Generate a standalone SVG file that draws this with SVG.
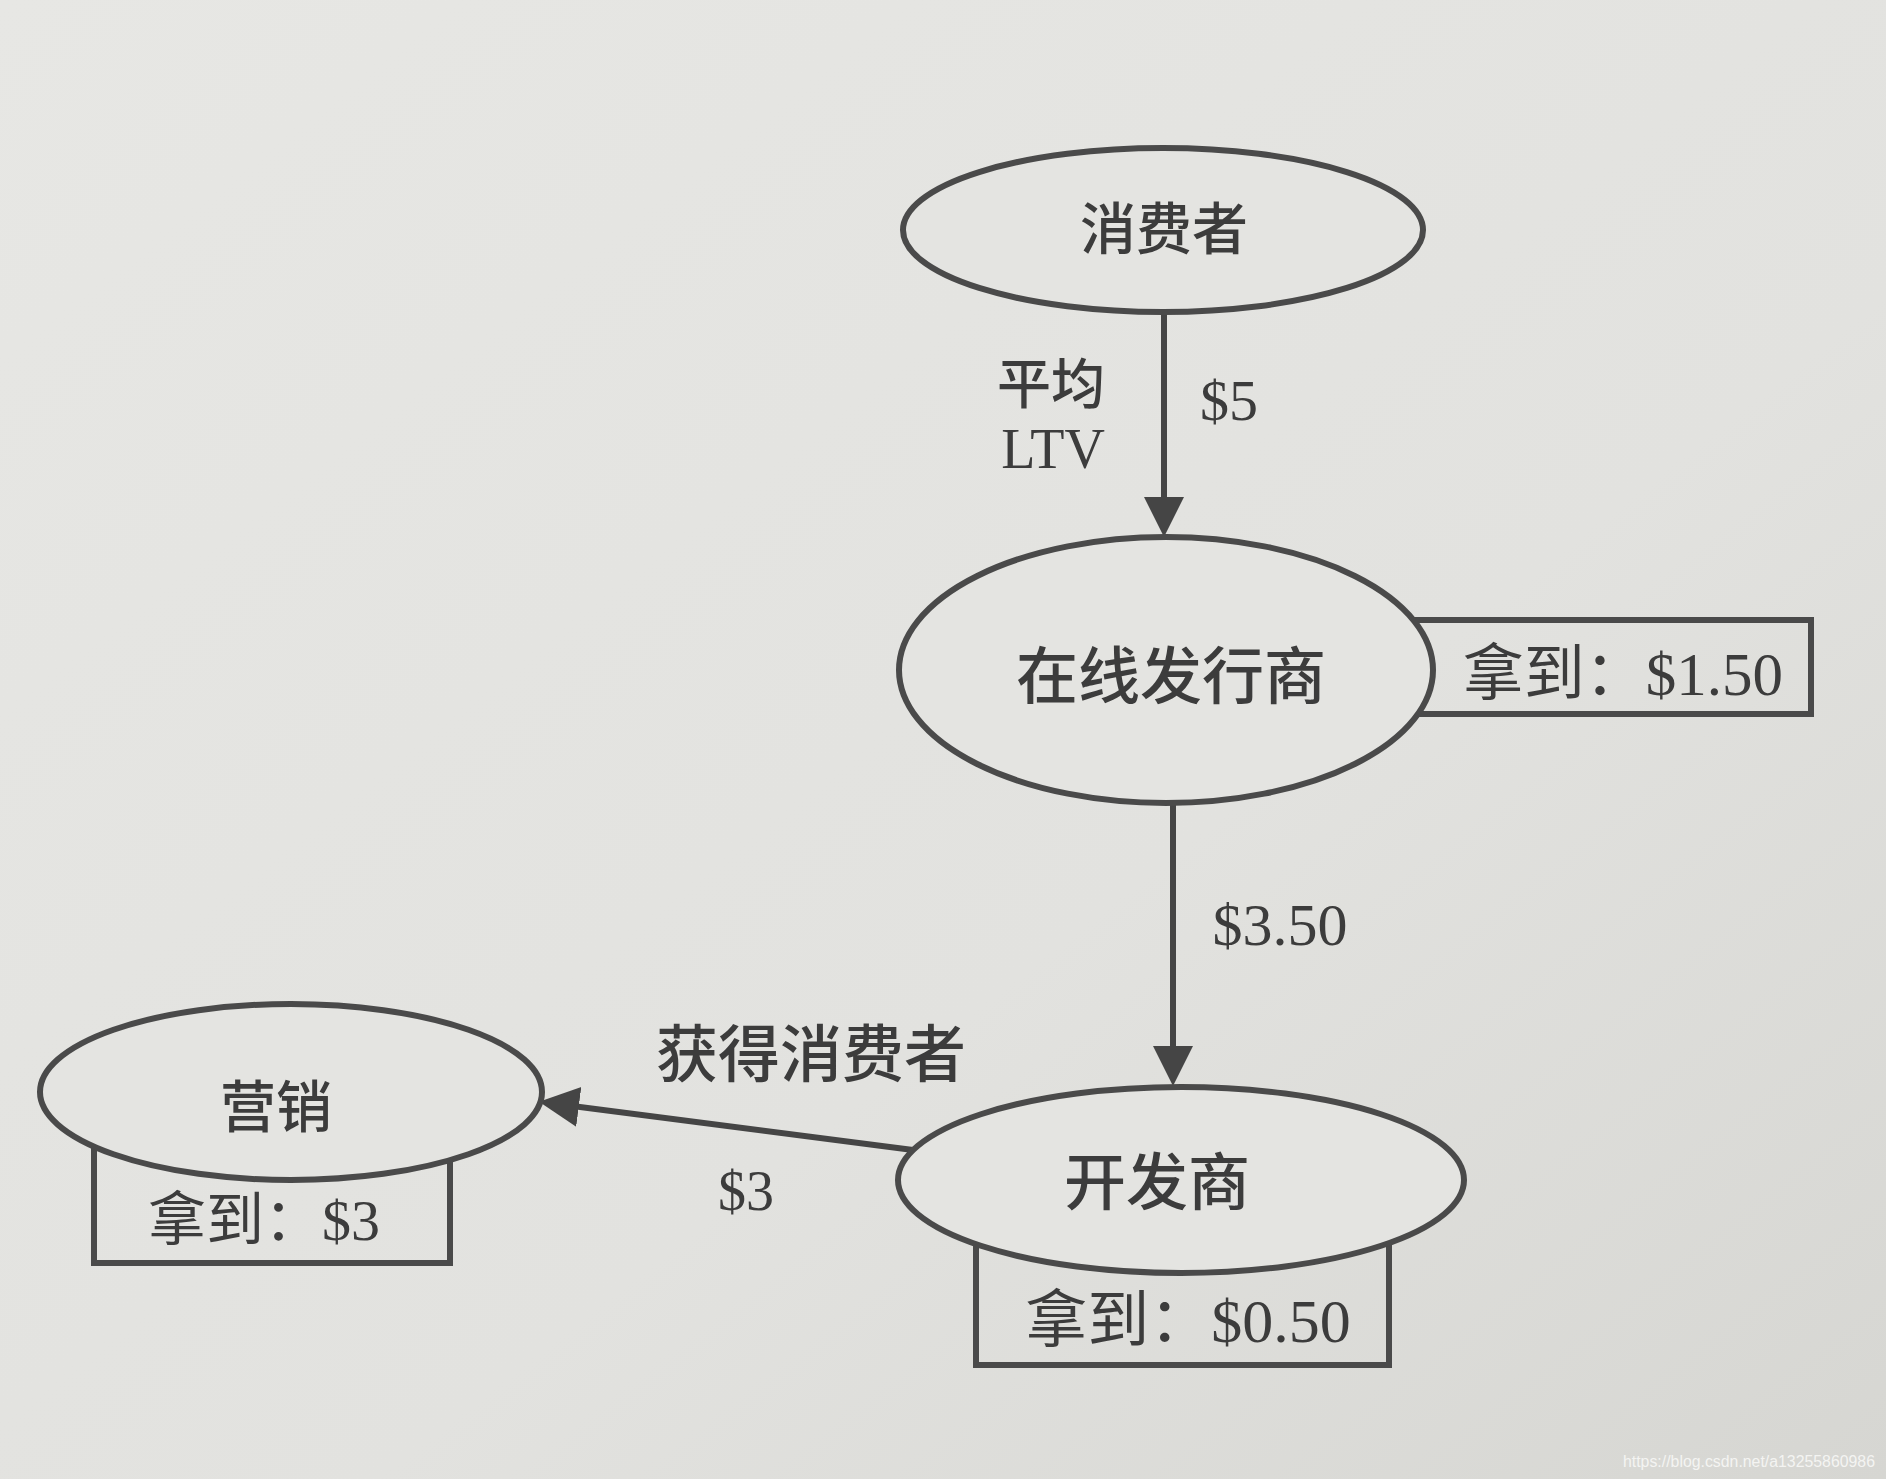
<svg xmlns="http://www.w3.org/2000/svg" width="1886" height="1479" viewBox="0 0 1886 1479">
<defs>
<linearGradient id="bg" x1="0" y1="0" x2="1" y2="1">
<stop offset="0" stop-color="#e7e7e4"/>
<stop offset="0.6" stop-color="#e2e2df"/>
<stop offset="1" stop-color="#d6d6d2"/>
</linearGradient>
<marker id="ah" markerUnits="userSpaceOnUse" markerWidth="42" markerHeight="42" refX="30" refY="20" orient="auto">
<path d="M0,0 L40,20 L0,40 Z" fill="#454545"/>
</marker>
<style>
.node{fill:#e4e4e1;stroke:#4a4a4a;stroke-width:6}
.box{fill:none;stroke:#4a4a4a;stroke-width:6}
.cn{font-family:"Noto Sans CJK SC",sans-serif;font-weight:500;fill:#3c3c3c;text-anchor:middle}
.mx{font-family:"Liberation Serif","Noto Sans CJK SC",serif;fill:#3c3c3c;text-anchor:middle}
.edge{stroke:#454545;stroke-width:6;fill:none;marker-end:url(#ah)}
</style>
</defs>
<rect x="0" y="0" width="1886" height="1479" fill="url(#bg)"/>

<g id="connectors">
<line class="edge" x1="1164" y1="311" x2="1164" y2="527"/>
<line class="edge" x1="1173" y1="803" x2="1173" y2="1076"/>
<line class="edge" x1="913" y1="1150" x2="549" y2="1103"/>
<text class="cn" x="1051" y="404" font-size="54">平均</text>
<text class="mx" x="1053" y="468" font-size="56">LTV</text>
<text class="mx" x="1229" y="420" font-size="58">$5</text>
<text class="mx" x="1280" y="945" font-size="60">$3.50</text>
<text class="cn" x="811" y="1077" font-size="62">获得消费者</text>
<text class="mx" x="746" y="1210" font-size="56">$3</text>
</g>

<g id="node-consumer">
<ellipse class="node" cx="1163" cy="230" rx="260" ry="82"/>
<text class="cn" x="1164" y="249" font-size="56">消费者</text>
</g>

<g id="node-publisher">
<rect class="box" x="1380" y="620" width="431" height="94"/>
<ellipse class="node" cx="1166" cy="670" rx="267" ry="133"/>
<text class="cn" x="1171" y="699" font-size="62">在线发行商</text>
<text class="mx" x="1623" y="695" font-size="61">拿到：$1.50</text>
</g>

<g id="node-developer">
<rect class="box" x="976" y="1210" width="413" height="155"/>
<ellipse class="node" cx="1181" cy="1180" rx="283" ry="93"/>
<text class="cn" x="1157" y="1205" font-size="62">开发商</text>
<text class="mx" x="1188" y="1342" font-size="62">拿到：$0.50</text>
</g>

<g id="node-marketing">
<rect class="box" x="94" y="1110" width="356" height="153"/>
<ellipse class="node" cx="291" cy="1092" rx="251" ry="88"/>
<text class="cn" x="276" y="1127" font-size="56">营销</text>
<text class="mx" x="264" y="1240" font-size="58">拿到：$3</text>
</g>

<text x="1623" y="1467" font-family="Liberation Sans, Arial, sans-serif" font-size="16" fill="#f4f4f2" textLength="252" lengthAdjust="spacingAndGlyphs">https://blog.csdn.net/a13255860986</text>
</svg>
